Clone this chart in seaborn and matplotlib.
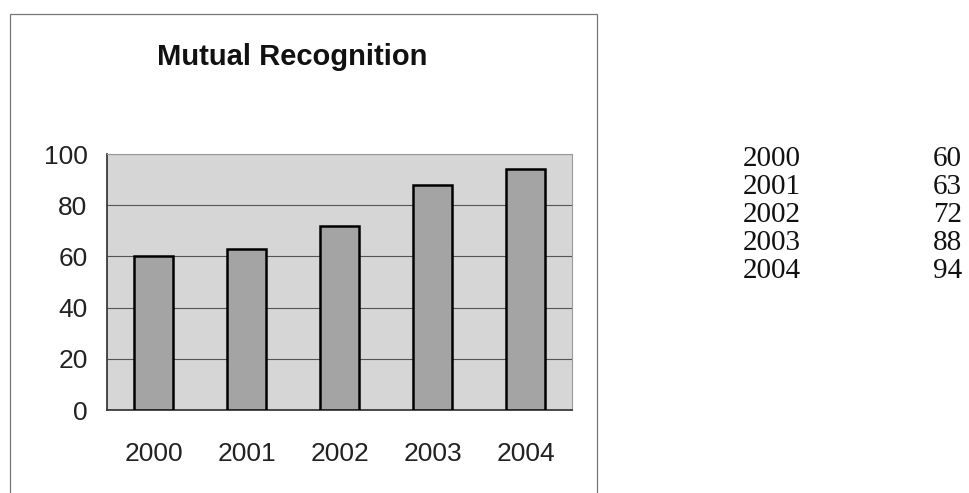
import pandas as pd
import numpy as np
import matplotlib
matplotlib.use("Agg")
import matplotlib.pyplot as plt
import seaborn as sns
from matplotlib.patches import Rectangle

# Data
years = ["2000", "2001", "2002", "2003", "2004"]
values = [60, 63, 72, 88, 94]
y_ticks = [0, 20, 40, 60, 80, 100]
title = "Mutual Recognition"

df = pd.DataFrame({"Year": years, "Value": values})

sns.set_theme(style="white")
plt.rcParams["font.family"] = ["Liberation Sans", "DejaVu Sans"]

fig = plt.figure(figsize=(9.7, 4.93), dpi=100)
fig.patch.set_facecolor("white")

# Outer chart box
fig.patches.append(Rectangle((10 / 970, -0.05), 587 / 970, 1 - 14 / 493 + 0.05,
                             transform=fig.transFigure, fill=False,
                             edgecolor="#777777", linewidth=0.9))

ax = fig.add_axes([107 / 970, 83 / 493, 465 / 970, 256 / 493])
ax.set_facecolor("#d6d6d6")

sns.barplot(data=df, x="Year", y="Value", color="#a4a4a4", edgecolor="black",
            linewidth=1.8, width=0.41, saturation=1, ax=ax, zorder=3)

ax.set_ylim(0, 100)
ax.set_xlim(-0.5, len(years) - 0.5)
ax.set_yticks(y_ticks)
ax.yaxis.grid(True, color="#555555", linewidth=0.8, zorder=0)
ax.set_axisbelow(True)
ax.set_xlabel("")
ax.set_ylabel("")

# Category ticks sit between the bars
ax.set_xticks(np.arange(-0.5, len(years)), minor=True)
ax.tick_params(axis="x", which="minor", length=6, width=0.8, color="#333333", direction="out")
ax.tick_params(axis="x", which="major", length=0, pad=23, labelsize=19)
ax.tick_params(axis="y", length=7, width=0.8, color="#333333", direction="out", pad=7, labelsize=19)
ax.tick_params(axis="both", colors="#222222", which="both")

for side in ["top", "right"]:
    ax.spines[side].set_color("#999999")
    ax.spines[side].set_linewidth(0.8)
ax.spines["left"].set_color("#333333")
ax.spines["bottom"].set_color("#333333")

fig.text(292 / 970, 1 - 65 / 493, title, ha="center", va="baseline",
         fontsize=21, fontweight="bold", color="#111111")

# Data table on the right
serif = ["Liberation Serif", "DejaVu Serif"]
for i, (yr, v) in enumerate(zip(years, values)):
    ypos = 1 - (159 + i * 28) / 493
    fig.text(743 / 970, ypos, yr, ha="left", va="center", fontsize=21,
             family=serif, color="#111111")
    fig.text(933 / 970, ypos, str(v), ha="left", va="center", fontsize=21,
             family=serif, color="#111111")

fig.savefig("out.png", dpi=100)
